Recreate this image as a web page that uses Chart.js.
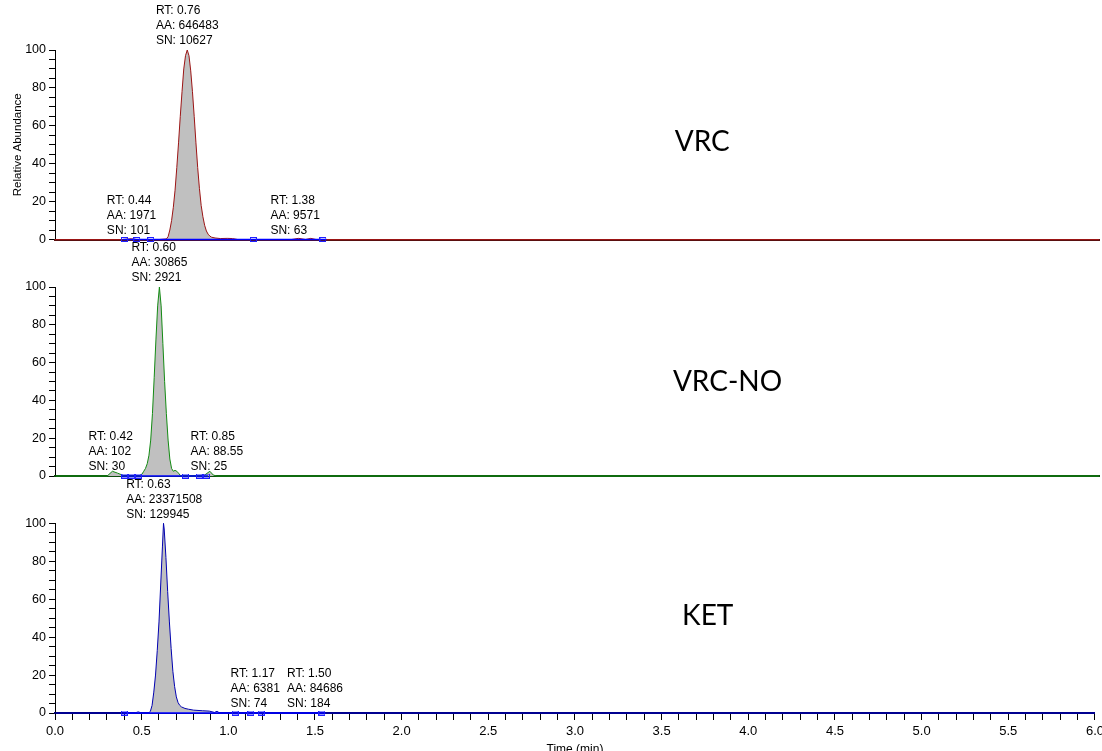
<!DOCTYPE html>
<html>
<head>
<meta charset="utf-8">
<title>VRC / VRC-NO / KET</title>
<script src="https://cdn.jsdelivr.net/npm/chart.js@4.4.1/dist/chart.umd.min.js"></script>
<style>
  html, body { margin: 0; padding: 0; background: #fff; overflow: hidden; }
  body { width: 1102px; height: 751px; position: relative; }
  .panel { position: absolute; left: 0; width: 1108px; }
  #panel1 { top: 0; height: 250px; }
  #panel2 { top: 237px; height: 250px; }
  #panel3 { top: 473px; height: 297px; }
</style>
</head>
<body>
<div class="panel" id="panel1"><canvas id="vrcChart"></canvas></div>
<div class="panel" id="panel2"><canvas id="vrcNoChart"></canvas></div>
<div class="panel" id="panel3"><canvas id="ketChart"></canvas></div>

<script>
// ---- VRC trace (time in min, relative abundance %) ----
const vrcTime = [0, 0.39, 0.44, 0.47, 0.55, 0.60, 0.64, 0.65, 0.66, 0.67, 0.68, 0.69, 0.70, 0.71, 0.72, 0.73,
    0.74, 0.75, 0.76, 0.77, 0.78, 0.79, 0.80, 0.81, 0.82, 0.83, 0.84, 0.85, 0.86, 0.87, 0.88, 0.89, 0.90,
    0.92, 0.95, 0.99, 1.02, 1.05, 1.36, 1.40, 1.44, 1.47, 1.50, 1.53, 6.0];
const vrcAbund = [0, 0, 0.4, 0, 0, 0, 0.3, 1.5, 5, 10, 17, 26, 38, 51, 65, 78,
    90, 97, 100, 97, 89, 78, 65, 51, 38, 27, 18, 12, 7.5, 4.5, 2.8, 1.8, 1.2,
    0.8, 0.5, 0.6, 0.5, 0, 0, 0.6, 0, 0.6, 0, 0, 0];
const vrcMarks = [0.40, 0.47, 0.55, 1.14, 1.54];
const vrcBase = [0.39, 1.56];
const vrcRT = [0.76, 0.44, 1.38];
const vrcPeakAt = [0.76, 0.44, 1.38];
const vrcPeakTop = [100, 0, 0];
const vrcAA = ["646483", "1971", "9571"];
const vrcSN = ["10627", "101", "63"];

// ---- VRC-NO trace ----
const noTime = [0, 0.30, 0.33, 0.36, 0.40, 0.48, 0.50, 0.51, 0.52, 0.53, 0.54, 0.55, 0.56, 0.57, 0.58, 0.59,
    0.60, 0.61, 0.62, 0.63, 0.64, 0.65, 0.66, 0.67, 0.68, 0.69, 0.70, 0.71, 0.72, 0.80, 0.86, 0.89, 0.91,
    0.93, 6.0];
const noAbund = [0, 0, 2.5, 1.5, 0, 0, 1, 2.5, 4, 6.5, 11, 19, 33, 52, 72, 90,
    100, 90, 70, 50, 33, 19, 9, 4, 2.5, 3, 2.5, 1.5, 0.3, 0, 0.5, 2.5, 0.5,
    0, 0];
const noMarks = [0.40, 0.44, 0.48, 0.75, 0.83, 0.87];
const noBase = [0.38, 0.88];
const noRT = [0.60, 0.42, 0.85];
const noPeakAt = [0.60, 0.32, 0.93];
const noPeakTop = [100, 0, 0];
const noAA = ["30865", "102", "88.55"];
const noSN = ["2921", "30", "25"];

// ---- KET trace ----
const ketTime = [0, 0.46, 0.48, 0.50, 0.54, 0.55, 0.56, 0.57, 0.58, 0.59, 0.60, 0.61, 0.62, 0.626, 0.63,
    0.64, 0.65, 0.66, 0.67, 0.68, 0.69, 0.70, 0.71, 0.72, 0.73, 0.75, 0.77, 0.80, 0.85, 0.89, 0.92,
    0.935, 0.95, 1.0, 6.0];
const ketAbund = [0, 0, 0.6, 0, 0, 0.8, 4, 11, 20, 33, 48, 68, 88, 100, 97,
    82, 64, 48, 34, 22, 14, 8.5, 5.5, 4, 3.2, 2.4, 2, 1.5, 1.2, 1, 0.3,
    0.9, 0, 0, 0];
const ketMarks = [0.40, 1.04, 1.13, 1.19, 1.54];
const ketBase = [0.39, 1.56];
const ketRT = [0.63, 1.17, 1.50];
const ketPeakAt = [0.63, 1.155, 1.50];
const ketPeakTop = [100, 0, 0];
const ketAA = ["23371508", "6381", "84686"];
const ketSN = ["129945", "74", "184"];

const LABEL_FONT = '"Liberation Sans", Arial, sans-serif';

// small hollow box used for the integration boundary marks
const boxMark = document.createElement("canvas");
boxMark.width = 7;
boxMark.height = 5;
const bctx = boxMark.getContext("2d");
bctx.strokeStyle = "#1f1fff";
bctx.lineWidth = 1;
bctx.strokeRect(0.5, 0.5, 6, 4);

// RT / AA / SN blocks above each peak plus the compound name
const peakLabels = {
    id: "peakLabels",
    afterDatasetsDraw(chart, args, opts) {
        const { ctx, scales: { x, y } } = chart;
        ctx.save();
        ctx.fillStyle = "#000";
        ctx.textBaseline = "middle";
        ctx.textAlign = "left";
        ctx.font = "12px " + LABEL_FONT;
        opts.rt.forEach((rt, i) => {
            const lines = ["RT: " + rt.toFixed(2), "AA: " + opts.aa[i], "SN: " + opts.sn[i]];
            const w = Math.max(...lines.map((s) => ctx.measureText(s).width));
            const left = x.getPixelForValue(opts.at[i]) - w / 2;
            const bottom = y.getPixelForValue(opts.top[i]) - 9;
            lines.forEach((s, k) => ctx.fillText(s, left, bottom - (2 - k) * 15));
        });
        ctx.font = "28px Lato, sans-serif";
        ctx.textAlign = "center";
        ctx.fillText(opts.name, x.getPixelForValue(opts.nameAt[0]), y.getPixelForValue(opts.nameAt[1]));
        ctx.restore();
    },
};

function makePanel(canvasId, p) {
    const points = p.time.map((t, i) => ({ x: t, y: p.abund[i] }));
    return new Chart(document.getElementById(canvasId), {
        type: "line",
        data: {
            datasets: [
                {
                    label: "marks",
                    data: p.marks.map((t) => ({ x: t, y: 0 })),
                    showLine: false,
                    pointStyle: boxMark,
                    pointRadius: 3,
                    clip: false,
                    order: 0,
                },
                {
                    label: "baseline",
                    data: p.base.map((t) => ({ x: t, y: 0 })),
                    borderColor: "#0000ff",
                    borderWidth: 1.5,
                    pointRadius: 0,
                    clip: false,
                    order: 1,
                },
                {
                    label: "trace",
                    data: points,
                    borderColor: p.color,
                    borderWidth: 1,
                    pointRadius: 0,
                    tension: 0,
                    fill: "origin",
                    backgroundColor: "#c0c0c0",
                    clip: false,
                    order: 2,
                },
            ],
        },
        plugins: [peakLabels],
        options: {
            responsive: true,
            maintainAspectRatio: false,
            animation: false,
            layout: { padding: p.padding },
            plugins: {
                legend: { display: false },
                tooltip: { enabled: false },
                peakLabels: {
                    rt: p.rt, at: p.at, top: p.top, aa: p.aa, sn: p.sn,
                    name: p.name, nameAt: p.nameAt,
                },
            },
            scales: {
                x: {
                    type: "linear",
                    min: 0,
                    max: 6,
                    border: { display: true, color: p.axisColor, width: 2 },
                    grid: {
                        display: p.bottomAxis,
                        drawOnChartArea: false,
                        drawTicks: true,
                        tickLength: 7,
                        color: "#000",
                    },
                    ticks: {
                        display: p.bottomAxis,
                        stepSize: 0.1,
                        autoSkip: false,
                        maxRotation: 0,
                        padding: 4,
                        color: "#000",
                        font: { family: LABEL_FONT, size: 13 },
                        callback: (v) => (Math.round(v * 10) % 5 === 0 ? v.toFixed(1) : ""),
                    },
                    title: {
                        display: p.bottomAxis,
                        text: "Time (min)",
                        color: "#000",
                        font: { family: LABEL_FONT, size: 12 },
                        padding: { top: 0, bottom: 13 },
                    },
                    afterFit: (scale) => { scale.height = p.bottomAxis ? 57 : 0; },
                },
                y: {
                    min: 0,
                    max: 100,
                    border: { display: true, color: "#000", width: 1 },
                    grid: { drawOnChartArea: false, tickLength: 6, color: "#000" },
                    ticks: {
                        stepSize: 5,
                        autoSkip: false,
                        padding: 3,
                        color: "#000",
                        font: { family: LABEL_FONT, size: 12.5 },
                        callback: (v) => (v % 20 === 0 ? v : ""),
                    },
                    title: {
                        display: p.yTitle,
                        text: "Relative Abundance",
                        color: "#000",
                        font: { family: LABEL_FONT, size: 11.5 },
                        padding: { top: 11, bottom: 0 },
                    },
                    afterFit: (scale) => { scale.width = 55; },
                },
            },
        },
    });
}

document.addEventListener("DOMContentLoaded", function () {
    makePanel("vrcChart", {
        time: vrcTime, abund: vrcAbund, marks: vrcMarks, base: vrcBase,
        rt: vrcRT, at: vrcPeakAt, top: vrcPeakTop, aa: vrcAA, sn: vrcSN,
        name: "VRC", nameAt: [3.72, 51.5],
        color: "#9b1414", axisColor: "#5a1010",
        bottomAxis: false, yTitle: true,
        padding: { top: 50, bottom: 10.5, left: 0, right: 9 },
    });
    makePanel("vrcNoChart", {
        time: noTime, abund: noAbund, marks: noMarks, base: noBase,
        rt: noRT, at: noPeakAt, top: noPeakTop, aa: noAA, sn: noSN,
        name: "VRC-NO", nameAt: [3.865, 49.7],
        color: "#138a13", axisColor: "#0d4d0d",
        bottomAxis: false, yTitle: false,
        padding: { top: 50, bottom: 11, left: 0, right: 9 },
    });
    makePanel("ketChart", {
        time: ketTime, abund: ketAbund, marks: ketMarks, base: ketBase,
        rt: ketRT, at: ketPeakAt, top: ketPeakTop, aa: ketAA, sn: ketSN,
        name: "KET", nameAt: [3.766, 51.1],
        color: "#0000b0", axisColor: "#000070",
        bottomAxis: true, yTitle: false,
        padding: { top: 50.3, bottom: 0, left: 0, right: 0 },
    });
});
</script>
</body>
</html>
